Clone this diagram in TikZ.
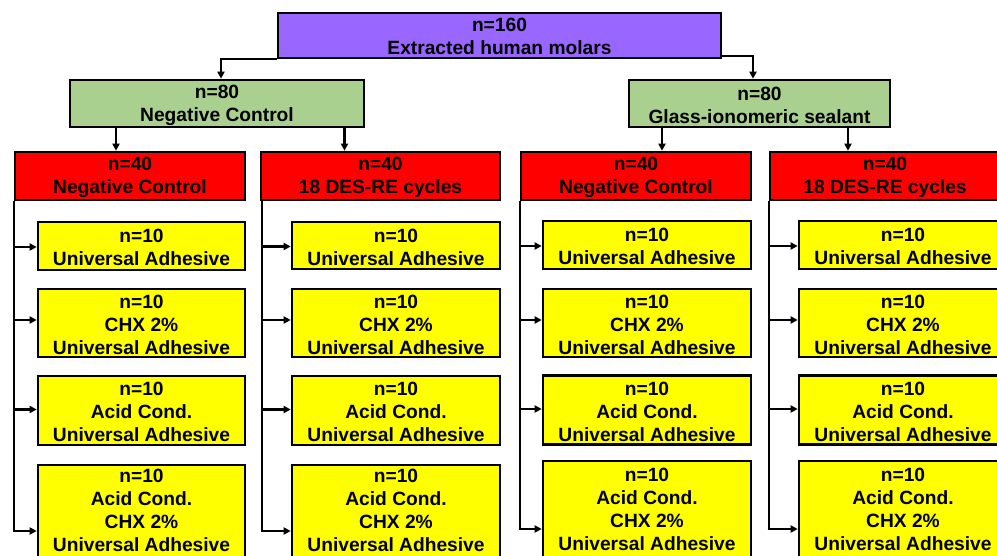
\documentclass[tikz,border=0pt]{standalone}
\usepackage{fontspec}
\setmainfont{Liberation Sans}
\usetikzlibrary{arrows.meta}
\definecolor{cpurple}{RGB}{153,102,255}
\definecolor{cgreen}{RGB}{169,208,142}
\definecolor{cred}{RGB}{255,0,0}
\definecolor{cyellow}{RGB}{255,255,0}
\tikzset{
  box/.style={draw=black, line width=2.6pt, inner sep=0pt},
  txt/.style={inner sep=0pt, align=center, text=black,
    font=\fontsize{19.2}{23}\selectfont\bfseries},
  purplebox/.style={box, fill=cpurple},
  greenbox/.style={box, fill=cgreen},
  redbox/.style={box, fill=cred},
  yelbox/.style={box, fill=cyellow},
  conn/.style={line width=2.3pt, draw=black},
  arr/.style={conn, -{Triangle[length=7pt,width=7pt]}},
}
% \bx{name}{style}{cx}{cy}{w}{h}{text}{text shift}
\newcommand{\bx}[8]{%
  \node[#2, minimum width=#5pt, minimum height=#6pt] (#1) at (#3,#4) {};
  \node[txt] (#1-t) at ([yshift=#8pt]#1.center) {#7};}
\begin{document}
\begin{tikzpicture}[x=1pt,y=-1pt]
\clip (0,0) rectangle (997,556);
\fill[white] (0,0) rectangle (997,556);
% top
\bx{top}{purplebox}{499.5}{35.5}{443}{45}{n=160\\Extracted human molars}{-1}
% green
\bx{gL}{greenbox}{217}{103.5}{294}{47}{n=80\\Negative Control}{-1.5}
\bx{gR}{greenbox}{759.5}{103.5}{261}{47}{n=80\\Glass-ionomeric sealant}{-1.5}
% red
\bx{r1}{redbox}{130}{176}{230}{48}{n=40\\Negative Control}{-1.5}
\bx{r2}{redbox}{380.5}{176}{239}{48}{n=40\\18 DES-RE cycles}{-1.5}
\bx{r3}{redbox}{636}{176}{230}{48}{n=40\\Negative Control}{-1.5}
\bx{r4}{redbox}{885}{176}{230}{48}{n=40\\18 DES-RE cycles}{-1.5}
% yellow column 1
\bx{a1}{yelbox}{141.5}{246}{207}{48}{n=10\\Universal Adhesive}{-1.5}
\bx{a2}{yelbox}{141.5}{323}{207}{68}{n=10\\CHX 2\%\\Universal Adhesive}{-1.5}
\bx{a3}{yelbox}{141.5}{410.5}{207}{69}{n=10\\Acid Cond.\\Universal Adhesive}{-1.5}
\bx{a4}{yelbox}{141.5}{511}{207}{92}{n=10\\Acid Cond.\\CHX 2\%\\Universal Adhesive}{0.5}
% yellow column 2
\bx{b1}{yelbox}{396}{245.5}{208}{47}{n=10\\Universal Adhesive}{-1.5}
\bx{b2}{yelbox}{396}{323}{208}{68}{n=10\\CHX 2\%\\Universal Adhesive}{-1.5}
\bx{b3}{yelbox}{396}{410.5}{208}{69}{n=10\\Acid Cond.\\Universal Adhesive}{-1.5}
\bx{b4}{yelbox}{396}{511}{208}{92}{n=10\\Acid Cond.\\CHX 2\%\\Universal Adhesive}{0.5}
% yellow column 3
\bx{c1}{yelbox}{647}{245}{208}{48}{n=10\\Universal Adhesive}{-1.5}
\bx{c2}{yelbox}{647}{323}{208}{68}{n=10\\CHX 2\%\\Universal Adhesive}{-1.5}
\bx{c3}{yelbox}{647}{410}{208}{69}{n=10\\Acid Cond.\\Universal Adhesive}{-1.5}
\bx{c4}{yelbox}{647}{509}{208}{96}{n=10\\Acid Cond.\\CHX 2\%\\Universal Adhesive}{-0.5}
% yellow column 4
\bx{d1}{yelbox}{903}{245}{208}{48}{n=10\\Universal Adhesive}{-1.5}
\bx{d2}{yelbox}{903}{323}{208}{68}{n=10\\CHX 2\%\\Universal Adhesive}{-1.5}
\bx{d3}{yelbox}{903}{410}{208}{69}{n=10\\Acid Cond.\\Universal Adhesive}{-1.5}
\bx{d4}{yelbox}{903}{509}{208}{96}{n=10\\Acid Cond.\\CHX 2\%\\Universal Adhesive}{-0.5}
% top connectors
\draw[arr] (top.south west) -| ([xshift=4pt]gL.north);
\draw[arr] ([yshift=3pt]top.south east) -| ([xshift=-6.5pt]gR.north);
% green to red
\draw[arr] ([xshift=-14pt]r1.north |- gL.south) -- ([xshift=-14pt]r1.north);
\draw[arr] ([xshift=-36pt]r2.north |- gL.south) -- ([xshift=-36pt]r2.north);
\draw[arr] ([xshift=26pt]r3.north |- gR.south) -- ([xshift=26pt]r3.north);
\draw[arr] ([xshift=-37pt]r4.north |- gR.south) -- ([xshift=-37pt]r4.north);
% trunks and branches
\foreach \r/\c/\dx in {r1/a/0pt, r2/b/2pt, r3/c/0pt, r4/d/0pt} {
  \draw[conn] ([xshift=\dx]\r.south west) -- ([xshift=\dx,yshift=-19pt]\r.south west |- \c4.west);
  \draw[arr] ([xshift=\dx,yshift=-1pt]\r.south west |- \c1.west) -- ([yshift=-1pt]\c1.west);
  \draw[arr] ([xshift=\dx,yshift=3pt]\r.south west |- \c2.west) -- ([yshift=3pt]\c2.west);
  \draw[arr] ([xshift=\dx,yshift=1pt]\r.south west |- \c3.west) -- ([yshift=1pt]\c3.west);
  \draw[arr] ([xshift=\dx-1pt,yshift=-20pt]\r.south west |- \c4.west) -- ([yshift=-20pt]\c4.west);
}
\end{tikzpicture}
\end{document}
